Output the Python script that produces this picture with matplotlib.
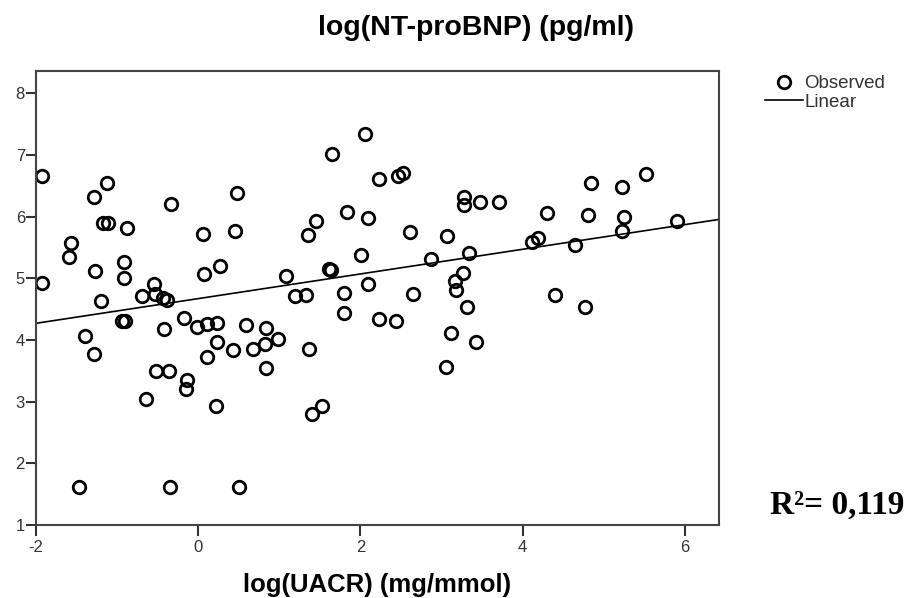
import matplotlib
matplotlib.use("Agg")
import matplotlib.pyplot as plt
import numpy as np

# ---- data ----
uacr_log = [-1.92, -1.13, -1.29, -0.33, 0.48, -1.17, -1.11, -0.88, 0.06, 0.45,
            -1.57, -1.59, -0.92, -1.27, -0.92, 0.07, 0.27, -1.93, -0.55, -1.20,
            -0.69, -0.53, -0.43, -0.39, -0.94, -0.90, -0.42, -0.17, -0.02, 0.11,
            0.23, 0.59, 0.23, 0.11, 0.43, 0.67, -1.40, -1.29, -0.52, -0.36,
            -0.14, -0.15, -0.64, 0.22, -1.47, -0.35, 0.50, 1.19, 1.33, 1.80,
            2.09, 2.65, 3.18, 3.31, 3.12, 3.06, 3.43, 1.80, 2.23, 2.44,
            0.84, 0.98, 0.82, 0.83, 1.37, 1.53, 1.40, 2.05, 1.65, 2.23,
            2.46, 2.52, 1.45, 1.83, 2.09, 1.35, 2.61, 3.07, 3.28, 3.28,
            3.47, 3.71, 2.01, 2.87, 3.34, 1.08, 1.61, 1.64, 3.26, 3.17,
            4.30, 4.84, 5.22, 5.52, 4.80, 5.25, 5.23, 5.90, 4.12, 4.19,
            4.65, 4.40, 4.77]
ntprobnp_log = [6.65, 6.55, 6.32, 6.20, 6.38, 5.90, 5.89, 5.81, 5.71, 5.76,
                5.57, 5.34, 5.27, 5.12, 5.00, 5.07, 5.20, 4.93, 4.91, 4.63,
                4.71, 4.74, 4.68, 4.65, 4.31, 4.30, 4.18, 4.35, 4.21, 4.26,
                4.28, 4.24, 3.97, 3.72, 3.84, 3.85, 4.06, 3.77, 3.50, 3.50,
                3.35, 3.20, 3.05, 2.93, 1.61, 1.61, 1.61, 4.71, 4.73, 4.76,
                4.91, 4.74, 4.81, 4.53, 4.12, 3.56, 3.97, 4.43, 4.34, 4.31,
                4.20, 4.02, 3.93, 3.54, 3.85, 2.93, 2.80, 7.34, 7.01, 6.61,
                6.66, 6.70, 5.93, 6.08, 5.97, 5.70, 5.75, 5.68, 6.32, 6.19,
                6.24, 6.24, 5.38, 5.31, 5.41, 5.04, 5.15, 5.13, 5.08, 4.96,
                6.05, 6.54, 6.48, 6.69, 6.02, 6.00, 5.76, 5.93, 5.58, 5.65,
                5.54, 4.73, 4.53]
fit_intercept = 4.67
fit_slope = 0.20
r2_label = "R\u00b2= 0,119"
x_ticks = [-2, 0, 2, 4, 6]
y_ticks = [1, 2, 3, 4, 5, 6, 7, 8]
title = "log(NT-proBNP) (pg/ml)"
xlabel = "log(UACR) (mg/mmol)"

plt.rcParams['font.family'] = ['Liberation Sans', 'DejaVu Sans']
plt.rcParams['axes.unicode_minus'] = False

W, H = 908, 598
fig = plt.figure(figsize=(W / 100, H / 100), dpi=100)
ax = fig.add_axes([36 / W, 1 - 525 / H, (719 - 36) / W, (525 - 71) / H])

xlim = (-2, 6.42)
ylim = (1, 8.36)

obs, = ax.plot(uacr_log, ntprobnp_log, linestyle='none', marker='o',
               markersize=9, markerfacecolor='none', markeredgecolor='black',
               markeredgewidth=2.0, label='Observed')
xl = np.array(xlim)
lin, = ax.plot(xl, fit_intercept + fit_slope * xl, color='black', lw=1.2,
               label='Linear')

ax.set_xlim(*xlim)
ax.set_ylim(*ylim)
ax.set_xticks(x_ticks)
ax.set_yticks(y_ticks)
ax.tick_params(axis='y', direction='out', length=7, width=1.5, color='#333333',
               labelsize=12, labelcolor='#333333', pad=1)
ax.tick_params(axis='x', direction='out', length=8, width=1.5, color='#333333',
               labelsize=12, labelcolor='#333333', pad=3)
for s in ax.spines.values():
    s.set_linewidth(1.5)
    s.set_color('#444444')

fig.text(476 / W, 1 - 35 / H, title, ha='center', va='baseline',
         fontsize=20.5, fontweight='bold')
fig.text(377 / W, 1 - 592 / H, xlabel, ha='center', va='baseline',
         fontsize=18.5, fontweight='bold')

fig.legend(handles=[obs, lin], loc='upper left',
           bbox_to_anchor=(765 / W, 1 - 75 / H), frameon=False,
           fontsize=13.5, handlelength=2.0, handletextpad=0.1,
           labelspacing=0.08, borderaxespad=0, borderpad=0,
           labelcolor='#333333')

fig.text(904 / W, 1 - 505 / H, r2_label, ha='right', va='center',
         fontsize=24, fontweight='bold', family='Liberation Serif')

fig.savefig("out.png", dpi=100)
